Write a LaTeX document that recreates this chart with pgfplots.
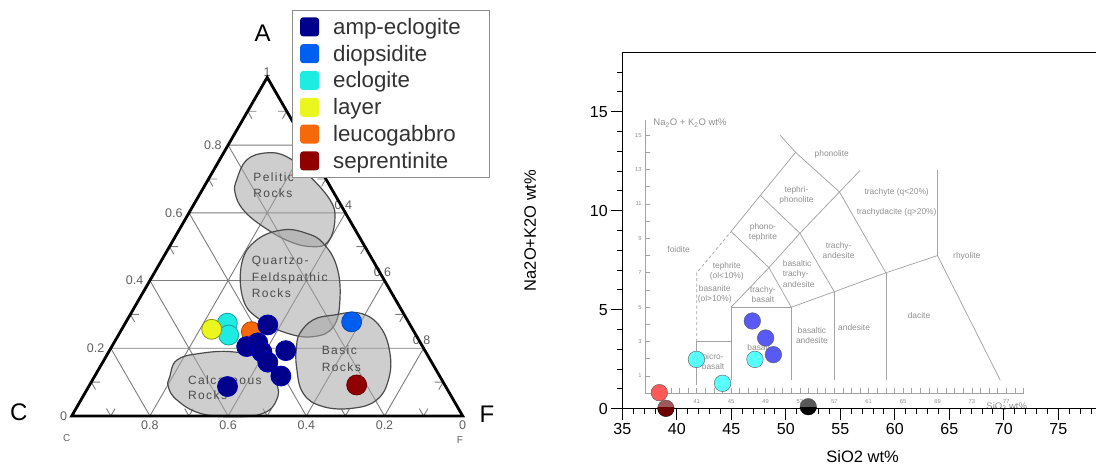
\documentclass[border=0pt]{standalone}
\usepackage{fontspec}
\setmainfont{Liberation Sans}
\newfontfamily\regfont[LetterSpace=12]{Liberation Sans}
\usepackage{pgfplots}
\pgfplotsset{compat=1.18}
\definecolor{ampL}{RGB}{0,0,140}
\definecolor{dioL}{RGB}{0,95,240}
\definecolor{eclL}{RGB}{30,235,225}
\definecolor{layL}{RGB}{235,245,30}
\definecolor{leuL}{RGB}{245,105,10}
\definecolor{serL}{RGB}{145,0,0}
\definecolor{gridc}{RGB}{125,125,125}
\definecolor{blobF}{RGB}{165,165,165}
\definecolor{blobD}{RGB}{75,75,75}
\definecolor{ternlab}{RGB}{95,95,95}
\definecolor{tasline}{RGB}{115,115,115}
\definecolor{tastext}{RGB}{85,85,85}
\definecolor{mblue}{RGB}{0,0,240}
\definecolor{mcyan}{RGB}{0,255,255}
\definecolor{mred}{RGB}{255,0,0}
\definecolor{mdred}{RGB}{110,0,0}
\tikzset{
  tas/.style={draw=tasline, line width=0.75pt},
  tl/.style={font=\fontsize{8.4}{10.3}\selectfont, text=tastext, align=center, inner sep=0pt},
  regl/.style={font=\regfont\fontsize{12}{13}\selectfont, text=blobD, anchor=west, inner sep=0pt},
  tlab/.style={font=\fontsize{12.5}{14}\selectfont, text=ternlab},
  blob/.style={smooth cycle, tension=0.7, fill=blobF, fill opacity=0.55, draw=blobD, line width=1.2pt},
}
\begin{document}
\begin{tikzpicture}
\path[use as bounding box] (0pt,0pt) rectangle (1096pt,470pt);

% ---------------- ternary diagram ----------------
\begin{axis}[
  at={(-6.5pt,-4.65pt)}, anchor=south west,
  x=391pt, y=391pt, xmin=-0.2, xmax=1.1, ymin=-0.15, ymax=1.1,
  hide axis, clip=false,
  legend image code/.code={\path[rounded corners=3pt,#1] (0pt,-9.5pt) rectangle (19pt,9.5pt);},
  legend style={at={(axis cs:0.5627,1.0384)}, anchor=north west,
    draw=black!45, line width=0.8pt, fill=white,
    font=\fontsize{22.3}{27}\selectfont, text=black!80,
    inner xsep=8pt, inner ysep=7pt, row sep=7.8pt,
    nodes={inner ysep=0pt, inner xsep=14pt}},
  legend cell align=left,
]
% grid
\draw[gridc, line width=0.9pt]
  (0.1,0.17321) -- (0.9,0.17321)
  (0.2,0.34641) -- (0.8,0.34641)
  (0.3,0.51962) -- (0.7,0.51962)
  (0.4,0.69282) -- (0.6,0.69282)
  (0.8,0) -- (0.4,0.69282)
  (0.6,0) -- (0.3,0.51962)
  (0.4,0) -- (0.2,0.34641)
  (0.2,0) -- (0.1,0.17321)
  (0.2,0) -- (0.6,0.69282)
  (0.4,0) -- (0.7,0.51962)
  (0.6,0) -- (0.8,0.34641)
  (0.8,0) -- (0.9,0.17321);
% chevron ticks
\draw[gridc, line width=0.9pt]
  (0.072,0.0866) -- (0.05,0.0866) -- (0.061,0.0676)
  (0.172,0.2598) -- (0.15,0.2598) -- (0.161,0.2408)
  (0.272,0.4330) -- (0.25,0.4330) -- (0.261,0.4140)
  (0.372,0.6062) -- (0.35,0.6062) -- (0.361,0.5872)
  (0.472,0.7794) -- (0.45,0.7794) -- (0.461,0.7604)
  (0.089,0.019) -- (0.1,0) -- (0.111,0.019)
  (0.289,0.019) -- (0.3,0) -- (0.311,0.019)
  (0.489,0.019) -- (0.5,0) -- (0.511,0.019)
  (0.689,0.019) -- (0.7,0) -- (0.711,0.019)
  (0.889,0.019) -- (0.9,0) -- (0.911,0.019)
  (0.528,0.7794) -- (0.55,0.7794) -- (0.539,0.7604)
  (0.628,0.6062) -- (0.65,0.6062) -- (0.639,0.5872)
  (0.728,0.4330) -- (0.75,0.4330) -- (0.739,0.4140)
  (0.828,0.2598) -- (0.85,0.2598) -- (0.839,0.2408)
  (0.928,0.0866) -- (0.95,0.0866) -- (0.939,0.0676);
% rock fields
\addplot[forget plot, blob] coordinates {(0.422,0.604) (0.448,0.655) (0.499,0.673) (0.550,0.663) (0.601,0.621) (0.661,0.552) (0.673,0.501) (0.656,0.446) (0.618,0.433) (0.558,0.446) (0.490,0.484) (0.439,0.527) (0.418,0.570)};
\addplot[forget plot, blob] coordinates {(0.473,0.450) (0.435,0.391) (0.439,0.297) (0.482,0.246) (0.550,0.212) (0.618,0.203) (0.669,0.228) (0.686,0.297) (0.678,0.382) (0.643,0.442) (0.601,0.467) (0.541,0.476)};
\addplot[forget plot, blob] coordinates {(0.584,0.212) (0.618,0.246) (0.669,0.258) (0.737,0.263) (0.789,0.228) (0.814,0.160) (0.810,0.092) (0.780,0.041) (0.720,0.020) (0.643,0.024) (0.592,0.058) (0.575,0.126) (0.575,0.177)};
\addplot[forget plot, blob] coordinates {(0.251,0.101) (0.269,0.143) (0.328,0.160) (0.413,0.164) (0.490,0.143) (0.524,0.084) (0.524,0.041) (0.490,0.007) (0.413,-0.002) (0.328,0.007) (0.269,0.041) (0.247,0.075)};
\node[regl] at (axis cs:0.464,0.611) {Pelitic};
\node[regl] at (axis cs:0.464,0.570) {Rocks};
\node[regl] at (axis cs:0.460,0.395) {Quartzo-};
\node[regl] at (axis cs:0.460,0.353) {Feldspathic};
\node[regl] at (axis cs:0.460,0.315) {Rocks};
\node[regl] at (axis cs:0.639,0.169) {Basic};
\node[regl] at (axis cs:0.639,0.126) {Rocks};
\node[regl] at (axis cs:0.297,0.092) {Calcareous};
\node[regl] at (axis cs:0.297,0.054) {Rocks};
% tick labels
\node[tlab, anchor=east, xshift=-3pt] at (axis cs:0.1,0.17321) {0.2};
\node[tlab, anchor=east, xshift=-3pt] at (axis cs:0.2,0.34641) {0.4};
\node[tlab, anchor=east, xshift=-3pt] at (axis cs:0.3,0.51962) {0.6};
\node[tlab, anchor=east, xshift=-3pt] at (axis cs:0.4,0.69282) {0.8};
\node[tlab, anchor=east, xshift=-1pt] at (axis cs:0,0) {0};
\node[tlab, anchor=south, inner sep=1pt] at (axis cs:0.5,0.866) {1};
\node[tlab, anchor=north, inner sep=2pt, yshift=-3pt] at (axis cs:0.2,0) {0.8};
\node[tlab, anchor=north, inner sep=2pt, yshift=-3pt] at (axis cs:0.4,0) {0.6};
\node[tlab, anchor=north, inner sep=2pt, yshift=-3pt] at (axis cs:0.6,0) {0.4};
\node[tlab, anchor=north, inner sep=2pt, yshift=-3pt] at (axis cs:0.8,0) {0.2};
\node[tlab, anchor=north, inner sep=2pt, yshift=-3pt] at (axis cs:1,0) {0};
\node[tlab, xshift=-2pt, yshift=8pt] at (axis cs:0.6,0.69282) {0.2};
\node[tlab, xshift=-2pt, yshift=8pt] at (axis cs:0.7,0.51962) {0.4};
\node[tlab, xshift=-2pt, yshift=8pt] at (axis cs:0.8,0.34641) {0.6};
\node[tlab, xshift=-2pt, yshift=8pt] at (axis cs:0.9,0.17321) {0.8};
\node[font=\fontsize{10}{12}\selectfont, text=ternlab] at (axis cs:-0.013,-0.056) {C};
\node[font=\fontsize{10}{12}\selectfont, text=ternlab] at (axis cs:0.993,-0.061) {F};
% triangle
\draw[black, line width=2.8pt, line join=miter] (0,0) -- (1,0) -- (0.5,0.8660254) -- cycle;
% data (ternary A, F; C = 1 - A - F)
\addplot[forget plot, only marks, mark=*, mark size=10pt, mark options={draw=leuL!70!black, fill=leuL, line width=0.8pt}]
  table[row sep=\\, x expr={\thisrow{F}+0.5*\thisrow{A}}, y expr={0.8660254*\thisrow{A}}] {A F\\ 0.249 0.335\\};
\addplot[forget plot, only marks, mark=*, mark size=10pt, mark options={draw=ampL!60!blue, fill=ampL, line width=0.8pt}]
  table[row sep=\\, x expr={\thisrow{F}+0.5*\thisrow{A}}, y expr={0.8660254*\thisrow{A}}] {A F\\ 0.269 0.367\\ 0.205 0.345\\ 0.216 0.368\\ 0.189 0.392\\ 0.159 0.422\\ 0.193 0.451\\ 0.118 0.476\\ 0.087 0.355\\};
\addplot[forget plot, only marks, mark=*, mark size=10pt, mark options={draw=dioL!75!black, fill=dioL, line width=0.8pt}]
  table[row sep=\\, x expr={\thisrow{F}+0.5*\thisrow{A}}, y expr={0.8660254*\thisrow{A}}] {A F\\ 0.278 0.577\\};
\addplot[forget plot, only marks, mark=*, mark size=10pt, mark options={draw=eclL!70!black, fill=eclL, line width=0.8pt}]
  table[row sep=\\, x expr={\thisrow{F}+0.5*\thisrow{A}}, y expr={0.8660254*\thisrow{A}}] {A F\\ 0.274 0.261\\ 0.239 0.282\\};
\addplot[forget plot, only marks, mark=*, mark size=10pt, mark options={draw=layL!60!black, fill=layL, line width=0.8pt}]
  table[row sep=\\, x expr={\thisrow{F}+0.5*\thisrow{A}}, y expr={0.8660254*\thisrow{A}}] {A F\\ 0.256 0.230\\};
\addplot[forget plot, only marks, mark=*, mark size=10pt, mark options={draw=serL!70!black, fill=serL, line width=0.8pt}]
  table[row sep=\\, x expr={\thisrow{F}+0.5*\thisrow{A}}, y expr={0.8660254*\thisrow{A}}] {A F\\ 0.0916 0.683\\};
% corner names
\node[font=\fontsize{24}{28}\selectfont] at (axis cs:0.488,0.9795) {A};
\node[font=\fontsize{24}{28}\selectfont] at (axis cs:-0.135,0.0102) {C};
\node[font=\fontsize{24}{28}\selectfont] at (axis cs:1.062,0.005) {F};
% legend
\addlegendimage{fill=ampL, draw=none}\addlegendentry{amp-eclogite\hspace*{7pt}}
\addlegendimage{fill=dioL, draw=none}\addlegendentry{diopsidite}
\addlegendimage{fill=eclL, draw=none}\addlegendentry{eclogite}
\addlegendimage{fill=layL, draw=none}\addlegendentry{layer}
\addlegendimage{fill=leuL, draw=none}\addlegendentry{leucogabbro}
\addlegendimage{fill=serL, draw=none}\addlegendentry{seprentinite}
\end{axis}

% ---------------- inner TAS diagram ----------------
\begin{axis}[
  at={(645.1pt,76.8pt)}, anchor=south west,
  x=8.6pt, y=17.2pt, xmin=35, xmax=79, ymin=0, ymax=15.9,
  clip=false,
  axis x line=bottom, axis y line=left,
  axis line style={-, draw=tasline, line width=0.7pt},
  tick align=inside,
  xtick={37,41,...,77}, minor xtick={36,37,...,79},
  ytick={1,3,...,15}, minor ytick={2,4,...,14},
  major tick length=5pt, minor tick length=5pt,
  every tick/.style={draw=tasline, line width=0.6pt},
  tick label style={font=\fontsize{5.8}{7}\selectfont, text=tastext},
  xticklabel style={yshift=-3pt},
  /pgf/number format/assume math mode=true,
]
\addplot[tas] coordinates {(41,0.5) (41,3) (45,3)};
\addplot[tas, dash pattern=on 3pt off 2.5pt] coordinates {(41,3) (41,7) (45,9.4)};
\addplot[tas] coordinates {(45,0.75) (45,5) (52,5) (52,0.75)};
\addplot[tas] coordinates {(45,5) (49.4,7.3) (53,9.3) (57.6,11.7) (60,12.95)};
\addplot[tas] coordinates {(45,9.4) (48.4,11.5) (52.5,14)};
\addplot[tas] coordinates {(50.7,15) (52.5,14) (57.6,11.7) (63,7)};
\addplot[tas] coordinates {(45,9.4) (49.4,7.3) (52,5)};
\addplot[tas] coordinates {(48.4,11.5) (53,9.3) (57,5.9)};
\addplot[tas] coordinates {(52,5) (57,5.9) (63,7) (69,8) (76.3,0.75)};
\addplot[tas] coordinates {(57,0.75) (57,5.9)};
\addplot[tas] coordinates {(63,0.75) (63,7)};
\addplot[tas] coordinates {(69,8) (69,13)};
\node[tl] at (axis cs:38.9,8.33) {foidite};
\node[tl] at (axis cs:56.7,13.9) {phonolite};
\node[tl] at (axis cs:52.6,11.5) {tephri-\\phonolite};
\node[tl] at (axis cs:48.7,9.35) {phono-\\tephrite};
\node[tl, anchor=west] at (axis cs:60.5,11.66) {trachyte (q<20\%)};
\node[tl, anchor=west] at (axis cs:59.6,10.5) {trachydacite (q>20\%)};
\node[tl] at (axis cs:44.5,7.1) {tephrite\\(ol<10\%)};
\node[tl, align=left, anchor=west] at (axis cs:51.0,6.93) {basaltic\\trachy-\\andesite};
\node[tl] at (axis cs:57.5,8.3) {trachy-\\andesite};
\node[tl] at (axis cs:43.1,5.73) {basanite\\(ol>10\%)};
\node[tl] at (axis cs:48.7,5.73) {trachy-\\basalt};
\node[tl] at (axis cs:72.4,7.94) {rhyolite};
\node[tl] at (axis cs:66.85,4.5) {dacite};
\node[tl] at (axis cs:59.3,3.83) {andesite};
\node[tl] at (axis cs:54.4,3.34) {basaltic\\andesite};
\node[tl] at (axis cs:48.2,2.65) {basalt};
\node[tl] at (axis cs:42.9,1.83) {picro-\\basalt};
\node[anchor=west, font=\fontsize{9.5}{11}\selectfont, text=tastext, inner sep=0pt] at (axis cs:35.95,15.7) {Na\textsubscript{2}O + K\textsubscript{2}O wt\%};
\node[font=\fontsize{9.5}{11}\selectfont, text=tastext, inner sep=0pt] at (axis cs:77.05,-0.78) {SiO\textsubscript{2} wt\%};
\end{axis}

% ---------------- outer scatter axis ----------------
\begin{axis}[
  at={(622.3pt,61.3pt)}, anchor=south west,
  x=10.9pt, y=19.8pt, xmin=35, xmax=79, ymin=0, ymax=18,
  clip=false,
  axis line style={black, line width=1pt},
  tick pos=left, tick align=outside,
  xtick={35,40,...,75}, ytick={0,5,10,15},
  minor xtick={36,37,...,78}, minor ytick={1,2,...,17},
  major tick length=11pt, minor tick length=5pt,
  every tick/.style={black, line width=1pt},
  tick label style={font=\fontsize{16}{19}\selectfont},
  /pgf/number format/assume math mode=true,
  xlabel={SiO2 wt\%}, ylabel={Na2O+K2O wt\%},
  label style={font=\fontsize{16.5}{19}\selectfont},
  xlabel style={at={(axis description cs:0.501,-0.1347)}, anchor=center},
  ylabel style={at={(axis description cs:-0.192,0.5)}, anchor=center},
]
\addplot[only marks, mark=*, mark size=8.3pt, mark options={draw=none, fill=mred}] coordinates {(38.4,0.81)};
\addplot[only marks, mark=*, mark size=8.3pt, mark options={draw=none, fill=mdred}] coordinates {(39.0,0.02)};
\addplot[only marks, mark=*, mark size=8.3pt, mark options={draw=none, fill=black}] coordinates {(52.06,0.1)};
\addplot[only marks, mark=*, mark size=8.3pt, mark options={draw=none, fill=mcyan}] coordinates {(41.8,2.49) (44.2,1.28) (47.17,2.49)};
\addplot[only marks, mark=*, mark size=8.3pt, mark options={draw=none, fill=mblue}] coordinates {(46.93,4.43) (48.15,3.57) (48.86,2.73)};
\end{axis}

% ---------------- translucent TAS image layer over the points ----------------
\begin{axis}[
  at={(622.3pt,61.3pt)}, anchor=south west,
  x=10.9pt, y=19.8pt, xmin=35, xmax=79, ymin=0, ymax=18,
  clip=false, hide axis,
]
\fill[white, opacity=0.35] (axis cs:35.5,0.08) rectangle (axis cs:79,17.6);
\end{axis}
\end{tikzpicture}
\end{document}
